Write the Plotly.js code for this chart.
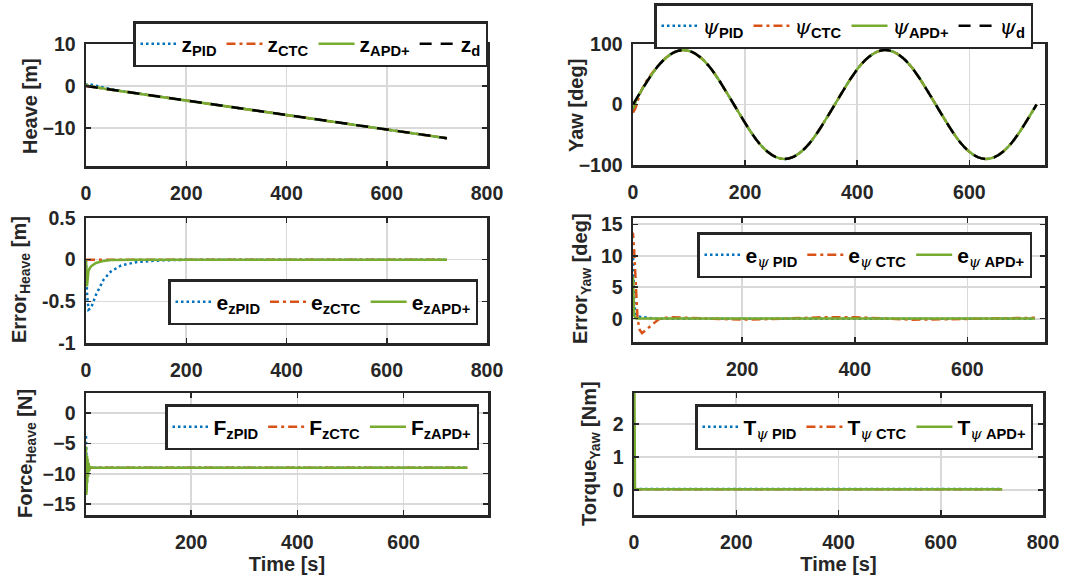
<!DOCTYPE html>
<html><head><meta charset="utf-8">
<script src="https://cdn.plot.ly/plotly-3.0.1.min.js"></script>
<style>html,body{margin:0;padding:0;background:#fff}#chart{width:1068px;height:583px}</style>
</head><body><div id="chart"></div>
<script>
// ---------------- DATA ----------------
// Heave (panel 1) and heave error (panel 3)
const heaveTime = [0, 2, 5, 10, 20, 35, 50, 70, 100, 150, 200, 300, 400, 500, 600, 720];
const heaveRef  = [0, -0.03, -0.09, -0.17, -0.34, -0.60, -0.86, -1.21, -1.72, -2.58, -3.44, -5.17, -6.89, -8.61, -10.33, -12.4];
const heavePID  = [0, 0.37, 0.51, 0.41, 0.08, -0.36, -0.72, -1.14, -1.69, -2.57, -3.44, -5.17, -6.89, -8.61, -10.33, -12.4];
const heaveCTC  = [0, -0.03, -0.09, -0.17, -0.34, -0.60, -0.86, -1.21, -1.72, -2.58, -3.44, -5.17, -6.89, -8.61, -10.33, -12.4];
const heaveAPD  = [0, 0.27, 0.04, -0.09, -0.30, -0.585, -0.855, -1.21, -1.72, -2.58, -3.44, -5.17, -6.89, -8.61, -10.33, -12.4];
const errHeavePID = [0, -0.40, -0.60, -0.58, -0.42, -0.24, -0.14, -0.07, -0.03, -0.008, -0.002, 0, 0, 0, 0, 0];
const errHeaveCTC = [0, 0, 0, 0, 0, 0, 0, 0, 0, 0, 0, 0, 0, 0, 0, 0];
const errHeaveAPD = [0, -0.32, -0.13, -0.08, -0.04, -0.015, -0.005, 0, 0, 0, 0, 0, 0, 0, 0, 0];

// Yaw (panel 2)
const yawTime = [0,15,30,45,60,75,90,105,120,135,150,165,180,195,210,225,240,255,270,285,300,315,330,345,360,
                 375,390,405,420,435,450,465,480,495,510,525,540,555,570,585,600,615,630,645,660,675,690,705,720];
const yawRef  = [0,23,45,64,78,87,90,87,78,64,45,23,0,-23,-45,-64,-78,-87,-90,-87,-78,-64,-45,-23,0,
                 23,45,64,78,87,90,87,78,64,45,23,0,-23,-45,-64,-78,-87,-90,-87,-78,-64,-45,-23,0];
const yawStartTime = [0, 2, 5, 10, 15, 20, 25, 30, 40];
const yawPIDStart  = [-10, -4.4, 4.3, 14.8, 23.0, 30.6, 37.9, 45.0, 57.9];
const yawCTCStart  = [-13.5, -10.4, -4.2, 10.6, 23.3, 32.6, 40.3, 46.8, 58.6];
const yawAPDStart  = [-7, -3.4, 5.8, 15.3, 23.2, 30.8, 38.0, 45.0, 57.9];

// Yaw error (panel 4)
const yawErrTime = [0, 3, 6, 8, 10, 12, 14, 18, 22, 30, 40, 50, 55, 70, 100, 150, 200, 250, 300, 350, 400, 450, 500, 550, 600, 650, 700, 720];
const errYawPID  = [10, 10, 10, 3.3, 1.0, 0.5, 0.4, 0.3, 0.25, 0.15, 0.05, 0, 0, 0, 0, 0, 0, 0, 0, 0, 0, 0, 0, 0, 0, 0, 0, 0];
const errYawCTC  = [14, 13.8, 13.5, 11, 7, 3, 0, -1.8, -2.3, -1.7, -0.9, -0.2, 0, 0.25, 0.15, -0.05, -0.15, -0.05, 0.1, 0.25, 0.25, 0.05, -0.15, -0.1, 0, 0.08, 0.15, 0.15];
const errYawAPD  = [7, 6.8, 6.5, 0.5, 0.1, 0.05, 0.05, 0.05, 0.05, 0.05, 0.05, 0.05, 0.05, 0.05, 0.05, 0.05, 0.05, 0.05, 0.05, 0.05, 0.05, 0.05, 0.05, 0.05, 0.05, 0.05, 0.05, 0.05];

// Heave force (panel 5)
const forceTime = [0, 1, 1.5, 2, 2.5, 3, 3.5, 4, 4.5, 5, 6, 7, 8, 10, 15, 30, 100, 200, 300, 400, 500, 600, 720];
const forcePID  = [-4, -4, -4, -4, -6, -8.5, -10.5, -10.2, -9.8, -9.5, -9.2, -9.1, -9.0, -9.0, -9.0, -9.0, -9.0, -9.0, -9.0, -9.0, -9.0, -9.0, -9.0];
const forceCTC  = [-9.0, -9.0, -9.0, -9.0, -9.0, -9.0, -9.0, -9.0, -9.0, -9.0, -9.0, -9.0, -9.0, -9.0, -9.0, -9.0, -9.0, -9.0, -9.0, -9.0, -9.0, -9.0, -9.0];
const forceAPD  = [-9, -9, -9, -5.5, -13.5, -6, -12.5, -7, -11.5, -7.5, -10.5, -8.2, -9.6, -8.9, -9.0, -9.0, -9.0, -9.0, -9.0, -9.0, -9.0, -9.0, -9.0];

// Yaw torque (panel 6)
const torqueTime = [0, 0.8, 2, 10, 100, 200, 300, 400, 500, 600, 720];
const torquePID  = [0.03, 0.03, 0.03, 0.03, 0.03, 0.03, 0.03, 0.03, 0.03, 0.03, 0.03];
const torqueCTC  = [0.02, 0.02, 0.02, 0.02, 0.02, 0.02, 0.02, 0.02, 0.02, 0.02, 0.02];
const torqueAPD  = [5, 0.03, 0.02, 0.02, 0.02, 0.02, 0.02, 0.02, 0.02, 0.02, 0.02];

// ---------------- STYLE ----------------
const W = 1068, H = 583;
const C_PID = '#0072BD', C_CTC = '#D95319', C_APD = '#77AC30', C_REF = '#000000';
const LW = 2.5;
const FONT = 'Liberation Sans, Arial, Helvetica, sans-serif';
const PSI = '<span style="font-family:\'DejaVu Serif\',serif;font-style:italic;font-weight:normal">ψ</span>';

const stPID = {color: C_PID, width: LW, dash: '2.5px,3px'};
const stCTC = {color: C_CTC, width: LW, dash: '9px,4px,3px,4px'};
const stAPD = {color: C_APD, width: LW};
const stREF = {color: C_REF, width: LW, dash: '12px,9px'};

function tr(x, y, name, line, ax, leg) {
  return {type: 'scatter', mode: 'lines', x: x, y: y, name: name, line: line,
          xaxis: 'x' + ax, yaxis: 'y' + ax, legend: leg, showlegend: true};
}
const yawPIDx = yawStartTime.concat(yawTime.slice(3));
const yawPIDy = yawPIDStart.concat(yawRef.slice(3));
const yawCTCy = yawCTCStart.concat(yawRef.slice(3));
const yawAPDy = yawAPDStart.concat(yawRef.slice(3));

const data = [
  tr(heaveTime, heavePID, 'z<sub>PID</sub>', stPID, '', 'legend'),
  tr(heaveTime, heaveCTC, 'z<sub>CTC</sub>', stCTC, '', 'legend'),
  tr(heaveTime, heaveAPD, 'z<sub>APD+</sub>', stAPD, '', 'legend'),
  tr(heaveTime, heaveRef, 'z<sub>d</sub>', stREF, '', 'legend'),

  tr(yawPIDx, yawPIDy, PSI + '<sub>PID</sub>', stPID, '2', 'legend2'),
  tr(yawPIDx, yawCTCy, PSI + '<sub>CTC</sub>', stCTC, '2', 'legend2'),
  tr(yawPIDx, yawAPDy, PSI + '<sub>APD+</sub>', stAPD, '2', 'legend2'),
  tr(yawTime, yawRef, PSI + '<sub>d</sub>', stREF, '2', 'legend2'),

  tr(heaveTime, errHeavePID, 'e<sub>zPID</sub>', stPID, '3', 'legend3'),
  tr(heaveTime, errHeaveCTC, 'e<sub>zCTC</sub>', stCTC, '3', 'legend3'),
  tr(heaveTime, errHeaveAPD, 'e<sub>zAPD+</sub>', stAPD, '3', 'legend3'),

  tr(yawErrTime, errYawPID, 'e<sub>' + PSI + ' PID</sub>', stPID, '4', 'legend4'),
  tr(yawErrTime, errYawCTC, 'e<sub>' + PSI + ' CTC</sub>', stCTC, '4', 'legend4'),
  tr(yawErrTime, errYawAPD, 'e<sub>' + PSI + ' APD+</sub>', stAPD, '4', 'legend4'),

  tr(forceTime, forcePID, 'F<sub>zPID</sub>', stPID, '5', 'legend5'),
  tr(forceTime, forceCTC, 'F<sub>zCTC</sub>', stCTC, '5', 'legend5'),
  tr(forceTime, forceAPD, 'F<sub>zAPD+</sub>', stAPD, '5', 'legend5'),

  tr(torqueTime, torquePID, 'T<sub>' + PSI + ' PID</sub>', stPID, '6', 'legend6'),
  tr(torqueTime, torqueCTC, 'T<sub>' + PSI + ' CTC</sub>', stCTC, '6', 'legend6'),
  tr(torqueTime, torqueAPD, 'T<sub>' + PSI + ' APD+</sub>', stAPD, '6', 'legend6')
];
// smooth sinusoid traces
for (let i = 4; i < 8; i++) data[i].line = Object.assign({shape: 'spline'}, data[i].line);

function xd(a, b) { return [a / W, b / W]; }
function yd(top, bot) { return [1 - bot / H, 1 - top / H]; }

const tickFont = {family: FONT, size: 19.5, color: '#262626', weight: 'bold'};
const titleFont = {family: FONT, size: 20, color: '#262626', weight: 'bold'};
function axis(extra) {
  return Object.assign({
    showline: true, linecolor: '#262626', linewidth: 2.5, mirror: 'ticks',
    ticks: 'inside', ticklen: 5, tickwidth: 1.5, tickcolor: '#262626',
    showgrid: true, gridcolor: '#d9d9d9', gridwidth: 1.6, zeroline: false,
    tickfont: tickFont, automargin: false, fixedrange: true
  }, extra);
}
function legend(right, top) {
  return {x: right / W, xanchor: 'right', y: 1 - top / H, yanchor: 'top', orientation: 'h',
          bgcolor: '#ffffff', bordercolor: '#262626', borderwidth: 2.5,
          font: {family: FONT, size: 21, color: '#000000', weight: 'bold'},
          itemwidth: 36, traceorder: 'normal', itemclick: false, itemdoubleclick: false};
}
function ytitle(text, xc, yc) {
  return {text: text, xref: 'paper', yref: 'paper', x: xc / W, y: 1 - yc / H,
          xanchor: 'center', yanchor: 'middle', textangle: -90, showarrow: false, font: titleFont};
}

const layout = {
  width: W, height: H, margin: {l: 0, r: 0, t: 0, b: 0},
  paper_bgcolor: '#ffffff', plot_bgcolor: '#ffffff', showlegend: true,
  xaxis:  axis({domain: xd(86, 487), range: [0, 800], tickvals: [0, 200, 400, 600, 800], anchor: 'y', ticklabelstandoff: 8}),
  yaxis:  axis({domain: yd(44, 166), range: [-19, 10], tickvals: [-10, 0, 10], anchor: 'x', ticklabelstandoff: 4}),
  xaxis2: axis({domain: xd(633, 1045), range: [0, 735], tickvals: [0, 200, 400, 600], anchor: 'y2', ticklabelstandoff: 8}),
  yaxis2: axis({domain: yd(44, 165), range: [-100, 100], tickvals: [-100, 0, 100], anchor: 'x2', ticklabelstandoff: 4}),
  xaxis3: axis({domain: xd(86, 487), range: [0, 800], tickvals: [0, 200, 400, 600, 800], anchor: 'y3', ticklabelstandoff: 8}),
  yaxis3: axis({domain: yd(218, 343), range: [-1, 0.5], tickvals: [-1, -0.5, 0, 0.5], ticktext: ['-1', '-0.5', '0', '0.5'], anchor: 'x3', ticklabelstandoff: 4}),
  xaxis4: axis({domain: xd(633, 1045), range: [6, 738], tickvals: [200, 400, 600], anchor: 'y4', ticklabelstandoff: 8}),
  yaxis4: axis({domain: yd(218, 342), range: [-3.7, 16], tickvals: [0, 5, 10, 15], anchor: 'x4', ticklabelstandoff: 4}),
  xaxis5: axis({domain: xd(86, 488), range: [2, 759], tickvals: [200, 400, 600], anchor: 'y5', ticklabelstandoff: 8,
                title: {text: 'Time [s]', font: titleFont, standoff: 2}}),
  yaxis5: axis({domain: yd(393, 515), range: [-16.8, 3.3], tickvals: [-15, -10, -5, 0], anchor: 'x5', ticklabelstandoff: 4}),
  xaxis6: axis({domain: xd(634, 1043), range: [0, 800], tickvals: [0, 200, 400, 600, 800], anchor: 'y6', ticklabelstandoff: 8,
                title: {text: 'Time [s]', font: titleFont, standoff: 2}}),
  yaxis6: axis({domain: yd(393, 515), range: [-0.76, 2.93], tickvals: [0, 1, 2], anchor: 'x6', ticklabelstandoff: 4}),
  annotations: [
    ytitle('Heave [m]', 30, 106),
    ytitle('Yaw [deg]', 576, 106),
    ytitle('Error<sub>Heave</sub> [m]', 21, 280),
    ytitle('Error<sub>Yaw</sub> [deg]', 581, 279),
    ytitle('Force<sub>Heave</sub> [N]', 26, 454),
    ytitle('Torque<sub>Yaw</sub> [Nm]', 590, 454)
  ],
  legend:  legend(488, 21),
  legend2: legend(1033, 3),
  legend3: legend(478, 279),
  legend4: legend(1032, 232),
  legend5: legend(479, 404),
  legend6: legend(1033, 404)
};

Plotly.newPlot('chart', data, layout, {displayModeBar: false, staticPlot: true});
</script></body></html>
